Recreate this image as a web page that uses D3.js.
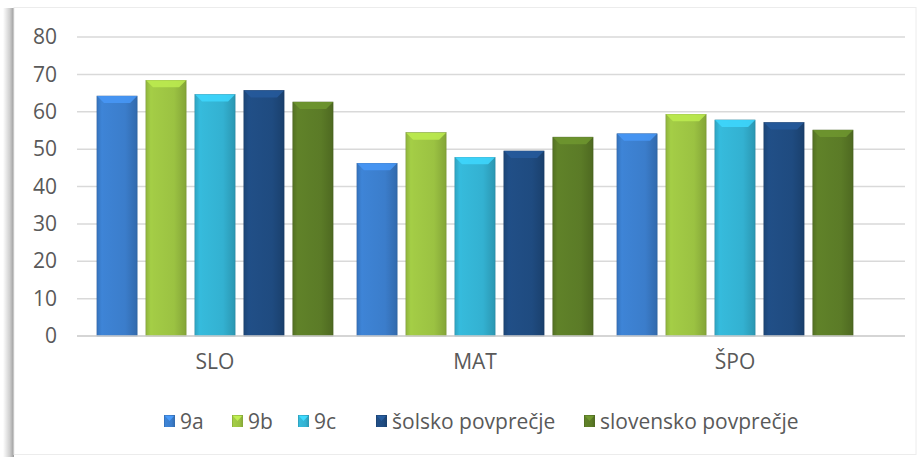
<!DOCTYPE html>
<html><head><meta charset="utf-8">
<script src="https://cdn.jsdelivr.net/npm/d3@7"></script>
<style>body{margin:0;background:#fff}svg{display:block}</style>
</head><body>
<svg id="c" width="920" height="457"></svg>
<script>
const categories = ["SLO", "MAT", "ŠPO"];
const seriesNames = ["9a", "9b", "9c", "šolsko povprečje", "slovensko povprečje"];
const v9a = [64.2, 46.2, 54.1];
const v9b = [68.4, 54.4, 59.3];
const v9c = [64.6, 47.8, 57.8];
const vSolsko = [65.7, 49.5, 57.1];
const vSlovensko = [62.6, 53.2, 55.1];
const yTicks = [0, 10, 20, 30, 40, 50, 60, 70, 80];
const seriesValues = [v9a, v9b, v9c, vSolsko, vSlovensko];
const colors = ["#3b7dcb", "#9bc242", "#33b1d1", "#1f4b80", "#5b7b27"];

const svg = d3.select("#c");
const font = "'Open Sans', sans-serif";
const fs = 21;
const defs = svg.append("defs");

// frame with left shadow
const sh = defs.append("linearGradient").attr("id","shadow").attr("x1","0").attr("x2","1");
sh.append("stop").attr("offset","0").attr("stop-color","#fff");
sh.append("stop").attr("offset","0.6").attr("stop-color","#d0d0d0");
sh.append("stop").attr("offset","1").attr("stop-color","#9a9a9a");
svg.append("rect").attr("x",3).attr("y",8).attr("width",11).attr("height",449).attr("fill","url(#shadow)");
svg.append("rect").attr("x",14).attr("y",7.5).attr("width",902).attr("height",447)
  .attr("fill","#fff").attr("stroke","#ececec").attr("stroke-width",1);

const y = d3.scaleLinear().domain([0, 80]).range([336, 37]);
const x0 = d3.scaleBand().domain(categories).range([85, 865]).paddingInner(0.092).paddingOuter(0.046);
const x1 = d3.scaleBand().domain(seriesNames).range([0, x0.bandwidth()]).paddingInner(0.18);

// gridlines
svg.append("g").selectAll("line").data(yTicks).join("line")
  .attr("x1", 77).attr("x2", 905)
  .attr("y1", d => y(d)).attr("y2", d => y(d))
  .attr("stroke", "#d9d9d9").attr("stroke-width", 1.5);

// y axis labels
const yAxis = d3.axisLeft(y).tickValues(yTicks).tickSize(0).tickPadding(0);
const ya = svg.append("g").attr("transform","translate(57,0)").call(yAxis);
ya.select(".domain").remove();
ya.selectAll("text").attr("font-family", font).attr("font-size", fs).attr("fill", "#595959");

// gradients per series
colors.forEach((c, i) => {
  const g = defs.append("linearGradient").attr("id","g"+i).attr("x1","0").attr("x2","1");
  const dk = d3.color(c).darker(0.45), lt = d3.color(c).brighter(0.15);
  g.append("stop").attr("offset","0").attr("stop-color", dk);
  g.append("stop").attr("offset","0.12").attr("stop-color", lt);
  g.append("stop").attr("offset","0.7").attr("stop-color", c);
  g.append("stop").attr("offset","1").attr("stop-color", dk);
});

const data = [];
categories.forEach((cat, ci) => seriesNames.forEach((s, si) => data.push({cat, s, si, v: seriesValues[si][ci]})));

const bars = svg.append("g").selectAll("g").data(data).join("g");
bars.append("rect")
  .attr("x", d => x0(d.cat) + x1(d.s)).attr("y", d => y(d.v))
  .attr("width", x1.bandwidth()).attr("height", d => y(0) - y(d.v))
  .attr("fill", d => "url(#g" + d.si + ")")
  .attr("stroke", d => d3.color(colors[d.si]).darker(0.8)).attr("stroke-width", 0.6);
// top bevel
bars.append("path")
  .attr("d", d => {
    const bx = x0(d.cat) + x1(d.s), bw = x1.bandwidth(), by = y(d.v), b = 7;
    return `M${bx},${by}L${bx+bw},${by}L${bx+bw-b},${by+b}L${bx+b},${by+b}Z`;
  })
  .attr("fill", d => d3.color(colors[d.si]).brighter(0.55)).attr("opacity", 0.85);
bars.append("path")
  .attr("d", d => {
    const bx = x0(d.cat) + x1(d.s), bw = x1.bandwidth(), by = y(d.v), b = 7;
    return `M${bx},${by}L${bx+b},${by+b}L${bx+b},${y(0)}L${bx},${y(0)}Z`;
  })
  .attr("fill", d => d3.color(colors[d.si]).brighter(0.2)).attr("opacity", 0.35);

// baseline
svg.append("line").attr("x1",77).attr("x2",905).attr("y1",y(0)).attr("y2",y(0))
  .attr("stroke","#d0d0d0").attr("stroke-width",1.5);

// x axis labels
const xAxis = d3.axisBottom(x0).tickSize(0).tickPadding(0);
const xa = svg.append("g").attr("transform","translate(0,354)").call(xAxis);
xa.select(".domain").remove();
xa.selectAll("text").attr("font-family", font).attr("font-size", fs).attr("fill", "#595959");

// legend
const legendX = [164, 232, 298, 376, 584];
const lg = svg.append("g").selectAll("g").data(seriesNames).join("g")
  .attr("transform", (d, i) => `translate(${legendX[i]},415)`);
lg.append("rect").attr("width", 11).attr("height", 12)
  .attr("fill", (d, i) => "url(#g" + i + ")");
lg.append("path").attr("d","M1,1L10,1L5.5,6Z").attr("fill",(d,i)=>d3.color(colors[i]).brighter(0.6));
lg.append("text").attr("x", 16).attr("y", 6).attr("dy", "0.36em")
  .attr("font-family", font).attr("font-size", fs).attr("fill", "#595959").text(d => d);
</script>
</body></html>
